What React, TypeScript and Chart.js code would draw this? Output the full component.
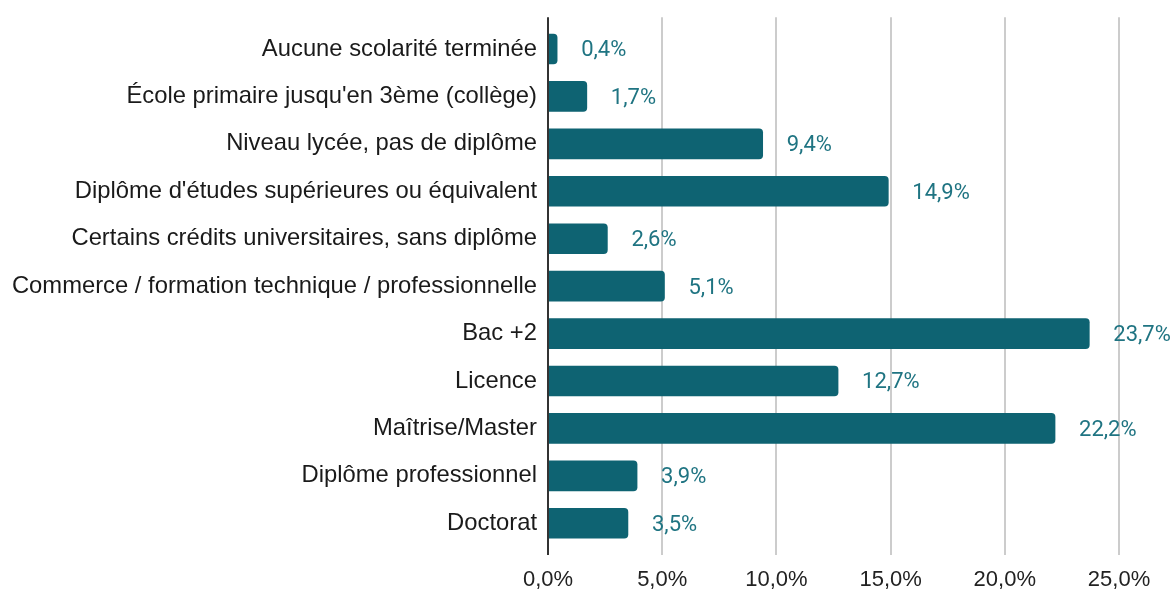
import React, { useEffect, useRef } from "react";
import { Chart, registerables } from "chart.js";

Chart.register(...registerables);

const categories = [
  "Aucune scolarité terminée",
  "École primaire jusqu'en 3ème (collège)",
  "Niveau lycée, pas de diplôme",
  "Diplôme d'études supérieures ou équivalent",
  "Certains crédits universitaires, sans diplôme",
  "Commerce / formation technique / professionnelle",
  "Bac +2",
  "Licence",
  "Maîtrise/Master",
  "Diplôme professionnel",
  "Doctorat",
];
const values = [0.4, 1.7, 9.4, 14.9, 2.6, 5.1, 23.7, 12.7, 22.2, 3.9, 3.5];
const xTicks = [0, 5, 10, 15, 20, 25];

const fmt = (v: number) => v.toFixed(1).replace(".", ",") + "%";
const LABEL_FONT = "'Liberation Sans', Arial, sans-serif";
const VALUE_FONT = "Roboto, 'Noto Sans', sans-serif";

const extrasPlugin = {
  id: "extras",
  beforeDatasetsDraw(chart: any) {
    const { ctx, chartArea, scales } = chart;
    const x = scales.x;
    ctx.save();
    ctx.strokeStyle = "#cccccc";
    ctx.lineWidth = 2;
    xTicks.slice(1).forEach((t) => {
      const px = Math.round(x.getPixelForValue(t));
      ctx.beginPath();
      ctx.moveTo(px, chartArea.top - 8);
      ctx.lineTo(px, chartArea.bottom + 8);
      ctx.stroke();
    });
    ctx.restore();
  },
  afterDatasetsDraw(chart: any) {
    const { ctx, chartArea, scales } = chart;
    const x = scales.x;
    const y = scales.y;
    ctx.save();
    ctx.strokeStyle = "#333333";
    ctx.lineWidth = 2;
    const px0 = Math.round(x.getPixelForValue(0));
    ctx.beginPath();
    ctx.moveTo(px0, chartArea.top - 8);
    ctx.lineTo(px0, chartArea.bottom + 8);
    ctx.stroke();

    ctx.fillStyle = "#1f7482";
    ctx.font = `22px ${VALUE_FONT}`;
    ctx.textAlign = "left";
    ctx.textBaseline = "middle";
    values.forEach((v, i) => {
      const px = x.getPixelForValue(v);
      const py = y.getPixelForValue(i);
      ctx.fillText(fmt(v), px + 24, py + 2);
    });
    ctx.restore();
  },
};

export default function App() {
  const ref = useRef<HTMLCanvasElement | null>(null);
  useEffect(() => {
    if (!ref.current) return;
    const chart = new Chart(ref.current, {
      type: "bar",
      data: {
        labels: categories,
        datasets: [
          {
            data: values,
            backgroundColor: "#0e6372",
            borderRadius: 4,
            borderSkipped: "start",
            barThickness: 30,
          },
        ],
      },
      options: {
        indexAxis: "y",
        animation: false,
        responsive: false,
        maintainAspectRatio: false,
        layout: { padding: { top: 23, right: 56, left: 0, bottom: 0 } },
        plugins: {
          legend: { display: false },
          tooltip: { enabled: false },
        },
        scales: {
          x: {
            min: 0,
            max: 25,
            afterBuildTicks(scale: any) {
              scale.ticks = xTicks.map((v) => ({ value: v }));
            },
            afterFit(scale: any) {
              scale.height = 45;
            },
            grid: { display: false, drawTicks: false },
            border: { display: false },
            ticks: {
              padding: 20,
              color: "#222222",
              font: { family: LABEL_FONT, size: 22 },
              callback: (v: any) => fmt(Number(v)),
              maxRotation: 0,
            },
          },
          y: {
            afterFit(scale: any) {
              scale.width = 548;
            },
            grid: { display: false, drawTicks: false },
            border: { display: false },
            ticks: {
              padding: 11,
              color: "#1a1a1a",
              font: { family: LABEL_FONT, size: 23.8 },
              autoSkip: false,
            },
          },
        },
      },
      plugins: [extrasPlugin],
    });
    return () => chart.destroy();
  }, []);
  return (
    <div style={{ position: "fixed", left: 0, top: 0, width: 1175, height: 592, background: "#fff" }}>
      <canvas ref={ref} width={1175} height={592} />
    </div>
  );
}
